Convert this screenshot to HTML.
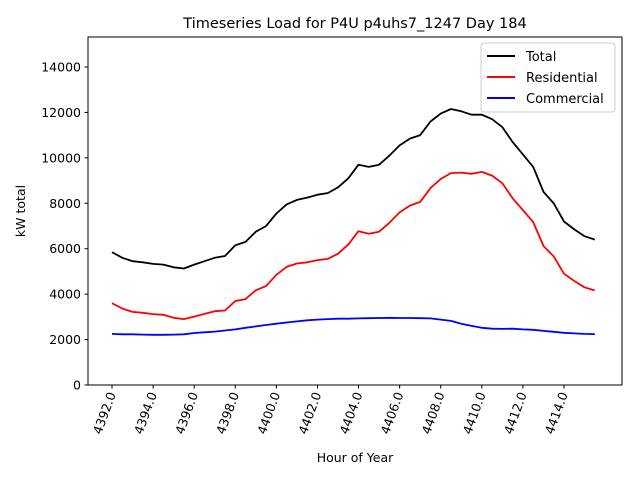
<!DOCTYPE html>
<html><head><meta charset="utf-8"><style>
body{margin:0;background:#fff}
svg text{font-family:"DejaVu Sans","Liberation Sans",sans-serif;fill:#000}
</style></head><body>
<svg id="chart" width="640" height="480" viewBox="0 0 640 480">
<rect width="640" height="480" fill="#fff"/>
<text x="355" y="28" font-size="14.5" text-anchor="middle">Timeseries Load for P4U p4uhs7_1247  Day 184</text>
<g id="yticks"></g><g id="xticks"></g><g id="series"></g>
<rect x="88" y="37" width="534" height="348" fill="none" stroke="#000" stroke-width="1"/>
<text x="355" y="462" font-size="12.5" text-anchor="middle">Hour of Year</text>
<text transform="translate(25,211) rotate(-90)" font-size="12.5" text-anchor="middle">kW total</text>
<g>
<rect x="481" y="43" width="134" height="69" rx="3" fill="#fff" fill-opacity="0.8" stroke="#ccc"/>
<g><line x1="487" y1="56" x2="515" y2="56" stroke="#000" stroke-width="2"/><text x="526" y="61" font-size="13">Total</text></g>
<g><line x1="487" y1="77" x2="515" y2="77" stroke="#f00" stroke-width="2"/><text x="526" y="82" font-size="13">Residential</text></g>
<g><line x1="487" y1="98" x2="515" y2="98" stroke="#00f" stroke-width="2"/><text x="526" y="103" font-size="13">Commercial</text></g>
</g>
</svg>
<script>
const hours = [];
for (let i = 0; i < 48; i++) hours.push(4392 + i * 0.5);
const totalLoad = [5850,5600,5450,5400,5330,5300,5180,5130,5300,5450,5600,5680,6150,6300,6750,7000,7550,7950,8150,8250,8380,8450,8700,9100,9700,9600,9700,10100,10550,10850,11000,11600,11950,12150,12050,11900,11900,11700,11350,10700,10150,9600,8500,8000,7200,6850,6550,6400];
const residentialLoad = [3600,3370,3220,3180,3120,3090,2960,2900,3010,3130,3250,3280,3700,3780,4170,4360,4850,5200,5350,5400,5500,5550,5780,6180,6770,6660,6750,7140,7600,7900,8060,8670,9070,9330,9350,9300,9380,9220,8880,8220,7700,7170,6120,5660,4900,4580,4300,4160];
const commercialLoad = [2250,2230,2230,2220,2210,2210,2220,2230,2290,2320,2350,2400,2450,2520,2580,2640,2700,2750,2800,2850,2880,2900,2920,2920,2930,2940,2950,2960,2950,2950,2940,2930,2880,2820,2700,2600,2520,2480,2470,2480,2450,2430,2380,2340,2300,2270,2250,2240];
const yTicks = [0,2000,4000,6000,8000,10000,12000,14000];
const xTicks = [4392,4394,4396,4398,4400,4402,4404,4406,4408,4410,4412,4414];

const NS = "http://www.w3.org/2000/svg";
const xs = h => 112 + (h - 4392) * (564 - 112) / 22;
const ys = v => 385 - v * 318 / 14000;
function mk(tag, attrs, parent) {
  const e = document.createElementNS(NS, tag);
  for (const k in attrs) e.setAttribute(k, attrs[k]);
  parent.appendChild(e);
  return e;
}
const yg = document.getElementById('yticks');
yTicks.forEach(v => {
  const l = mk('line', {x1: 84.5, x2: 88, y1: ys(v), y2: ys(v), stroke: '#000'}, yg);
  
  
  const t = mk('text', {x: 81, y: ys(v) + 4.5, 'font-size': 12.5, 'text-anchor': 'end'}, yg);
  t.textContent = v;
  
  
});
const xg = document.getElementById('xticks');
xTicks.forEach(h => {
  const x = xs(h);
  const l = mk('line', {x1: x, x2: x, y1: 385, y2: 388.5, stroke: '#000'}, xg);
  
  
  const t = mk('text', {x: 0, y: 0, 'font-size': 12.5, 'text-anchor': 'end', transform: `translate(${x + 4},394) rotate(-70)`}, xg);
  t.textContent = h.toFixed(1);
  
  
});
const sg = document.getElementById('series');
[[commercialLoad, '#00f', 'commercial-line'], [residentialLoad, '#f00', 'residential-line'], [totalLoad, '#000', 'total-line']].forEach(([arr, c, n]) => {
  const d = arr.map((v, i) => (i ? 'L' : 'M') + xs(hours[i]).toFixed(1) + ' ' + ys(v).toFixed(1)).join(' ');
  const p = mk('path', {d: d, fill: 'none', stroke: c, 'stroke-width': 1.8, 'stroke-linejoin': 'round'}, sg);
  
  
});
</script>
</body></html>
